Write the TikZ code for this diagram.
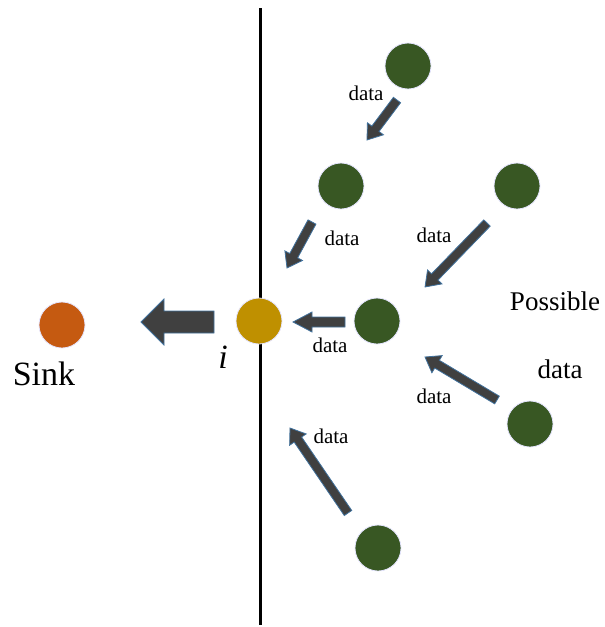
\documentclass[tikz,border=0pt]{standalone}
\usepackage{fontspec}
\setmainfont{Liberation Serif}
\usetikzlibrary{calc}
\definecolor{gnode}{HTML}{385723}
\definecolor{inode}{HTML}{BF9000}
\definecolor{snode}{HTML}{C55A11}
\definecolor{agrey}{HTML}{404040}
\definecolor{ablue}{HTML}{41719C}
\tikzset{
  dot/.style={circle, minimum size=46pt, inner sep=0pt, draw=blue!10!white, line width=0.8pt},
  gdot/.style={dot, fill=gnode},
  lbl/.style={anchor=base, inner sep=0pt, font=\fontsize{21}{21}\selectfont},
  biglbl/.style={anchor=base, inner sep=0pt, font=\fontsize{27}{27}\selectfont},
  barrow/.style={fill=agrey, draw=ablue, line width=0.8pt, line join=miter}
}
% #1 tail, #2 tip, #3 shaft half width, #4 head half width, #5 head length
\newcommand\blockarrow[5]{%
  \filldraw[barrow] let \p1=(#1), \p2=(#2),
    \n1={atan2(\y2-\y1,\x2-\x1)}, \n2={veclen(\x2-\x1,\y2-\y1)} in
    ($(\p1)+(\n1+90:#3)$) --
    ($(\p1)+(\n1:\n2-#5)+(\n1+90:#3)$) --
    ($(\p1)+(\n1:\n2-#5)+(\n1+90:#4)$) --
    (\p2) --
    ($(\p1)+(\n1:\n2-#5)+(\n1-90:#4)$) --
    ($(\p1)+(\n1:\n2-#5)+(\n1-90:#3)$) --
    ($(\p1)+(\n1-90:#3)$) -- cycle;
}
\begin{document}
\begin{tikzpicture}[x=1pt, y=1pt]
\useasboundingbox (0,0) rectangle (605,-627);
% border line
\coordinate (ltop) at (260,-8);
\coordinate (lbot) at (260,-625);
\draw[line width=3pt] (ltop) -- (lbot);
% nodes
\node[dot, fill=snode] (sink) at (62,-325) {};
\node[dot, fill=inode] (i) at (259,-321) {};
\node[gdot] (g1) at (408,-66) {};
\node[gdot] (g2) at (341,-186) {};
\node[gdot] (g3) at (517,-186) {};
\node[gdot] (g4) at (377,-321) {};
\node[gdot] (g5) at (530,-424) {};
\node[gdot] (g6) at (378,-548) {};
% arrow end points
\coordinate (a0t) at (214,-322);  \coordinate (a0h) at (141,-322);
\coordinate (a1t) at (397,-100);  \coordinate (a1h) at (367,-140);
\coordinate (a2t) at (312,-222);  \coordinate (a2h) at (287,-268);
\coordinate (a3t) at (487,-223);  \coordinate (a3h) at (425,-287);
\coordinate (a4t) at (345,-322);  \coordinate (a4h) at (293,-322);
\coordinate (a5t) at (497,-400);  \coordinate (a5h) at (425,-357);
\coordinate (a6t) at (348,-513);  \coordinate (a6h) at (290,-428);
\blockarrow{a0t}{a0h}{11}{23}{23}
\blockarrow{a1t}{a1h}{4.5}{10}{14}
\blockarrow{a2t}{a2h}{4.5}{10}{14}
\blockarrow{a3t}{a3h}{4.5}{10}{14}
\blockarrow{a4t}{a4h}{5}{10}{19}
\blockarrow{a5t}{a5h}{4.5}{10}{14}
\blockarrow{a6t}{a6h}{4.5}{10}{14}
% labels
\node[lbl] (d1) at (366,-100) {data};
\node[lbl] (d2) at (342,-245) {data};
\node[lbl] (d3) at (434,-242) {data};
\node[lbl] (d4) at (330,-352) {data};
\node[lbl] (d5) at (434,-403) {data};
\node[lbl] (d6) at (331,-443) {data};
\node[biglbl] (pos) at (555,-310) {Possible};
\node[biglbl] (pdata) at (560,-378) {data};
\node[anchor=base, inner sep=0pt, font=\fontsize{34}{34}\selectfont] (sinkl) at (44,-385) {Sink};
\node[anchor=base, inner sep=0pt, font=\fontsize{34}{34}\selectfont\itshape] (il) at (223,-368) {i};
\end{tikzpicture}
\end{document}
